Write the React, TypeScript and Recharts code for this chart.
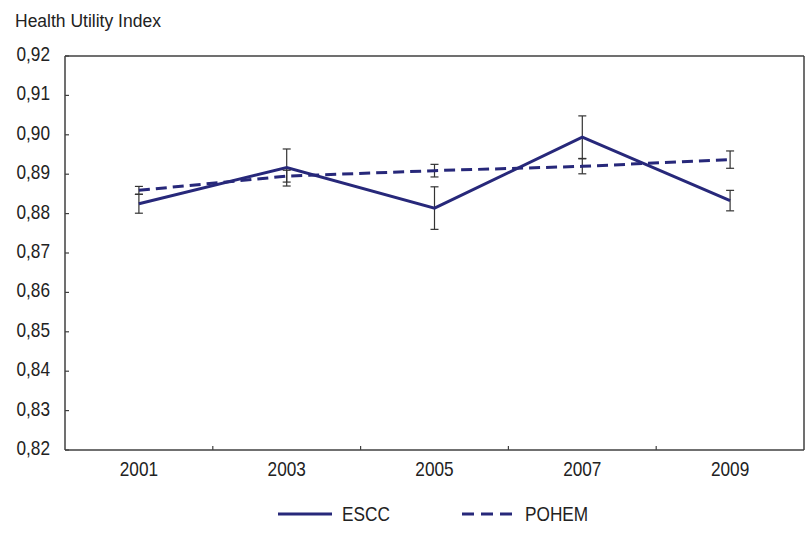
import React from "react";
import { LineChart, Line, XAxis, YAxis, ErrorBar, ReferenceLine } from "recharts";

const years = [2001, 2003, 2005, 2007, 2009];
const esccValues = [0.8825, 0.8917, 0.8814, 0.8994, 0.8833];
const esccErrors = [0.0024, 0.0047, 0.0054, 0.0054, 0.0026];
const pohemValues = [0.8859, 0.8895, 0.8909, 0.892, 0.8937];
const pohemErrors = [0.001, 0.0015, 0.0016, 0.0019, 0.0022];
const yTicks = [0.82, 0.83, 0.84, 0.85, 0.86, 0.87, 0.88, 0.89, 0.9, 0.91, 0.92];
const xTicks = [2001, 2002, 2003, 2004, 2005, 2006, 2007, 2008, 2009];

const data = years.map((year, i) => ({
  year,
  escc: esccValues[i],
  esccErr: esccErrors[i],
  pohem: pohemValues[i],
  pohemErr: pohemErrors[i],
}));

const NAVY = "#27287a";
const AXIS = "#404040";
const FONT = "'Liberation Sans', Arial, sans-serif";
const SQUEEZE = 0.82; // reference uses a narrow face

const YTick = (props: any) => {
  const { x, y, payload } = props;
  return (
    <g>
      <line x1={x} y1={y} x2={x + 4} y2={y} stroke={AXIS} strokeWidth={1.2} />
      <text
        transform={`translate(${x - 15},${y + 5}) scale(${SQUEEZE},1)`}
        textAnchor="end"
        fontSize={21}
        fontFamily={FONT}
        fill="#222"
      >
        {payload.value.toFixed(2).replace(".", ",")}
      </text>
    </g>
  );
};

const XTick = (props: any) => {
  const { x, y, payload } = props;
  if (payload.value % 2 === 0) {
    return <line x1={x} y1={y} x2={x} y2={y - 4} stroke={AXIS} strokeWidth={1.2} />;
  }
  return (
    <text
      transform={`translate(${x},${y + 26}) scale(${SQUEEZE},1)`}
      textAnchor="middle"
      fontSize={21}
      fontFamily={FONT}
      fill="#222"
    >
      {payload.value}
    </text>
  );
};

const legendText: React.CSSProperties = {
  position: "absolute",
  top: 2,
  transform: `scaleX(${SQUEEZE})`,
  transformOrigin: "left center",
};

export default function App() {
  return (
    <div style={{ position: "absolute", left: 0, top: 0, width: 806, height: 538, background: "#fff" }}>
      <div
        style={{
          position: "absolute",
          left: 15,
          top: 11,
          fontSize: 17.5,
          fontFamily: FONT,
          color: "#222",
        }}
      >
        Health Utility Index
      </div>
      <LineChart width={806} height={538} data={data} margin={{ top: 56, right: 2, bottom: 58, left: 0 }}>
        <XAxis
          dataKey="year"
          type="number"
          domain={[2000, 2010]}
          ticks={xTicks}
          tick={<XTick />}
          tickSize={0}
          tickMargin={0}
          height={30}
          axisLine={{ stroke: AXIS, strokeWidth: 1.5 }}
          tickLine={false}
          interval={0}
        />
        <YAxis
          domain={[0.82, 0.92]}
          ticks={yTicks}
          tick={<YTick />}
          tickSize={0}
          tickMargin={0}
          width={65}
          axisLine={{ stroke: AXIS, strokeWidth: 1.5 }}
          tickLine={false}
          interval={0}
        />
        <ReferenceLine y={0.92} stroke={AXIS} strokeWidth={1.5} />
        <ReferenceLine x={2010} stroke={AXIS} strokeWidth={1.5} />
        <Line
          dataKey="escc"
          stroke={NAVY}
          strokeWidth={3}
          dot={false}
          activeDot={false}
          isAnimationActive={false}
        >
          <ErrorBar dataKey="esccErr" width={4} stroke="#333" strokeWidth={1.2} isAnimationActive={false} />
        </Line>
        <Line
          dataKey="pohem"
          stroke={NAVY}
          strokeWidth={3}
          strokeDasharray="11 6"
          dot={false}
          activeDot={false}
          isAnimationActive={false}
        >
          <ErrorBar dataKey="pohemErr" width={4} stroke="#333" strokeWidth={1.2} isAnimationActive={false} />
        </Line>
      </LineChart>
      <div style={{ position: "absolute", left: 0, top: 500, width: 806, height: 30, fontFamily: FONT, fontSize: 21, color: "#222" }}>
        <svg style={{ position: "absolute", left: 278, top: 0 }} width={56} height={30}>
          <line x1={0} y1={14} x2={54} y2={14} stroke={NAVY} strokeWidth={3} />
        </svg>
        <span style={{ ...legendText, left: 342 }}>ESCC</span>
        <svg style={{ position: "absolute", left: 462, top: 0 }} width={56} height={30}>
          <line x1={0} y1={14} x2={54} y2={14} stroke={NAVY} strokeWidth={3} strokeDasharray="12 7" />
        </svg>
        <span style={{ ...legendText, left: 525 }}>POHEM</span>
      </div>
    </div>
  );
}
